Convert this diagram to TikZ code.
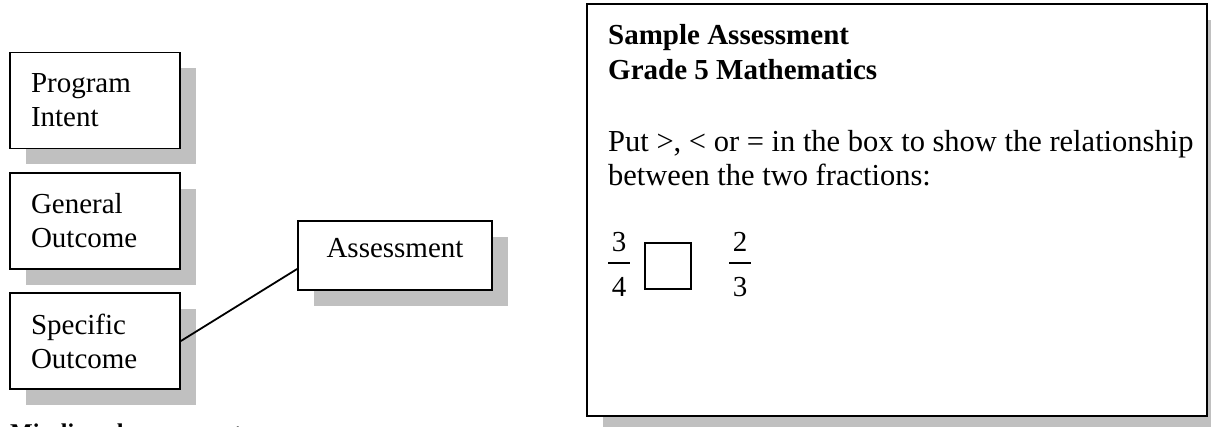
\documentclass[tikz,border=0pt]{standalone}
\usepackage{fontspec}
\setmainfont{Liberation Serif}
\usetikzlibrary{shadows}
\definecolor{shadecol}{RGB}{192,192,192}

\begin{document}
\begin{tikzpicture}[x=1pt,y=-1pt,
  body/.style={font={\fontsize{29pt}{34pt}\selectfont}},
  bold/.style={font={\bfseries\fontsize{29pt}{34pt}\selectfont}},
  outbox/.style={body,draw,line width=1.8pt,fill=white,align=left,
    text width=128pt,inner xsep=21pt,minimum height=96pt,
    drop shadow={shadow xshift=16pt,shadow yshift=-16pt,fill=shadecol,opacity=1}},
  txt/.style={inner sep=0pt,anchor=base west},
  fracbar/.style={line width=1.1pt}]
\useasboundingbox (0,0) rectangle (1211,427);
\node[outbox] (prog) at (95,100.5) {Program\\Intent};
\node[outbox] (gen) at (95,221) {General\\Outcome};
\node[outbox] (spec) at (95,341) {Specific\\Outcome};
\node[outbox,align=center,text width=,minimum width=194pt,minimum height=69pt,
  text height=17pt,text depth=12pt] (assess) at (395,255.5) {Assessment};
\draw[line width=1.8pt] (spec.east) -- ([yshift=-13.5pt]assess.west);
\node[txt,font={\bfseries\fontsize{24pt}{28pt}\selectfont}] (caption) at (10,441) {Misaligned assessment};
\node[outbox,line width=2pt,text width=,minimum width=620pt,minimum height=412pt] (sheet) at (897,210) {};
\node[txt,bold] (head1) at (608,45) {Sample Assessment};
\node[txt,bold] (head2) at (608,80) {Grade 5 Mathematics};
\node[txt,font={\fontsize{30.5pt}{34pt}\selectfont}] (task1) at (608,152) {Put >, < or = in the box to show the relationship};
\node[txt,font={\fontsize{30.5pt}{34pt}\selectfont}] (task2) at (608,186) {between the two fractions:};
\node[txt,body,anchor=base] (num1) at (619,252) {3};
\node[txt,body,anchor=base] (den1) at (619,297) {4};
\draw[fracbar] (608,263) -- (630,263);
\node[draw,line width=1.2pt,minimum size=46pt] (blank) at (668,266) {};
\node[txt,body,anchor=base] (num2) at (740,252) {2};
\node[txt,body,anchor=base] (den2) at (740,297) {3};
\draw[fracbar] (729,263) -- (751,263);
\end{tikzpicture}
\end{document}
